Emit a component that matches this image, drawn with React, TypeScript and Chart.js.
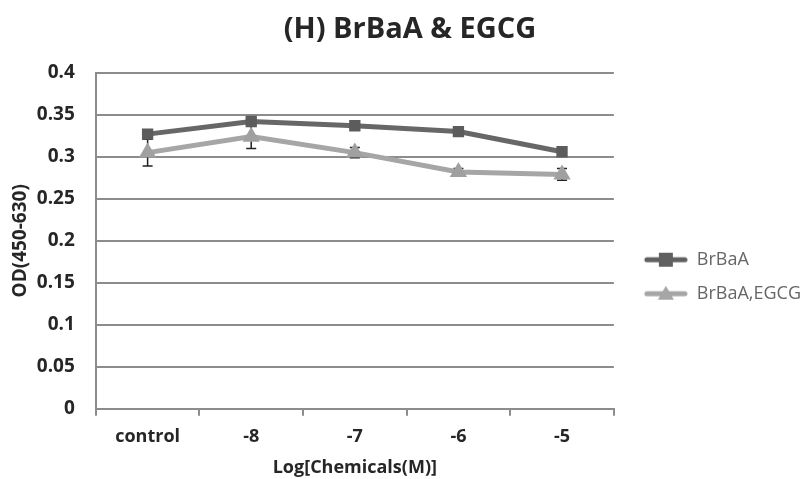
import React, { useEffect, useRef } from "react";
import { Chart, registerables } from "chart.js";

Chart.register(...registerables);

const categories = ["control", "-8", "-7", "-6", "-5"];
const brbaa = [0.327, 0.342, 0.337, 0.330, 0.306];
const brbaaErr = [0.003, 0.003, 0.003, 0.003, 0.003];
const egcg = [0.305, 0.324, 0.305, 0.282, 0.279];
const egcgErr = [0.016, 0.014, 0.006, 0.004, 0.007];
const yTicks = [0, 0.05, 0.1, 0.15, 0.2, 0.25, 0.3, 0.35, 0.4];

const FONT = "'Open Sans', 'Noto Sans', sans-serif";
const DARK = "#606060";
const LIGHT = "#a6a6a6";
const LEGEND_BOX = 58;

function legendIcon(color: string, shape: "square" | "triangle") {
  const c = document.createElement("canvas");
  c.width = LEGEND_BOX;
  c.height = 16;
  const ctx = c.getContext("2d")!;
  const x0 = LEGEND_BOX - 44;
  ctx.strokeStyle = color;
  ctx.lineWidth = 5;
  ctx.lineCap = "round";
  ctx.beginPath();
  ctx.moveTo(x0 + 3, 8);
  ctx.lineTo(x0 + 41, 8);
  ctx.stroke();
  ctx.fillStyle = color;
  if (shape === "square") {
    ctx.fillRect(x0 + 15, 1, 14, 14);
  } else {
    ctx.beginPath();
    ctx.moveTo(x0 + 22, 0);
    ctx.lineTo(x0 + 30, 14);
    ctx.lineTo(x0 + 14, 14);
    ctx.closePath();
    ctx.fill();
  }
  return c;
}

const errorBarPlugin = {
  id: "errorBars",
  beforeDatasetsDraw(chart: any) {
    const ctx = chart.ctx;
    const y = chart.scales.y;
    const errs = [brbaaErr, egcgErr];
    chart.data.datasets.forEach((ds: any, i: number) => {
      const meta = chart.getDatasetMeta(i);
      ctx.save();
      ctx.strokeStyle = "#222";
      ctx.lineWidth = 1.5;
      meta.data.forEach((pt: any, j: number) => {
        const v = ds.data[j];
        const e = errs[i][j];
        const yTop = y.getPixelForValue(v + e);
        const yBot = y.getPixelForValue(v - e);
        ctx.beginPath();
        ctx.moveTo(pt.x, yTop);
        ctx.lineTo(pt.x, yBot);
        ctx.moveTo(pt.x - 5, yTop);
        ctx.lineTo(pt.x + 5, yTop);
        ctx.moveTo(pt.x - 5, yBot);
        ctx.lineTo(pt.x + 5, yBot);
        ctx.stroke();
      });
      ctx.restore();
    });
  },
};

export default function App() {
  const ref = useRef<HTMLCanvasElement>(null);
  useEffect(() => {
    if (!ref.current) return;
    const iconA = legendIcon(DARK, "square");
    const iconB = legendIcon(LIGHT, "triangle");
    const chart = new Chart(ref.current, {
      type: "line",
      data: {
        labels: categories,
        datasets: [
          {
            label: "BrBaA",
            data: brbaa,
            borderColor: "#676767",
            backgroundColor: "#5c5c5c",
            borderWidth: 5,
            pointStyle: "rect",
            pointRadius: 8,
            pointBorderWidth: 0,
            pointBorderColor: "#5c5c5c",
          },
          {
            label: "BrBaA,EGCG",
            data: egcg,
            borderColor: LIGHT,
            backgroundColor: "#a0a0a0",
            borderWidth: 5,
            pointStyle: "triangle",
            pointRadius: 10,
            pointBorderWidth: 0,
            pointBorderColor: "#a0a0a0",
          },
        ],
      },
      options: {
        animation: false,
        responsive: false,
        layout: { padding: { left: 9, right: -3, top: 2, bottom: 0 } },
        plugins: {
          title: {
            display: true,
            text: "(H) BrBaA & EGCG",
            font: { family: FONT, size: 29, weight: "bold" },
            color: "#262626",
            padding: { top: 10, bottom: 26 },
          },
          legend: {
            position: "right",
            title: {
              display: true,
              text: " ",
              font: { family: FONT, size: 12 },
              padding: { top: 0, bottom: 58 },
            },
            labels: {
              usePointStyle: true,
              pointStyleWidth: LEGEND_BOX,
              padding: 16,
              font: { family: FONT, size: 18 },
              color: "#262626",
              generateLabels: () => [
                { text: "BrBaA", pointStyle: iconA as any, datasetIndex: 0, fillStyle: DARK, strokeStyle: DARK, lineWidth: 0, hidden: false } as any,
                { text: "BrBaA,EGCG", pointStyle: iconB as any, datasetIndex: 1, fillStyle: LIGHT, strokeStyle: LIGHT, lineWidth: 0, hidden: false } as any,
              ],
            },
          },
          tooltip: { enabled: false },
        },
        scales: {
          x: {
            offset: true,
            grid: {
              offset: true,
              drawOnChartArea: false,
              drawTicks: true,
              tickLength: 7,
              color: "#8c8c8c",
              lineWidth: 2,
            },
            border: { color: "#8c8c8c", width: 2 },
            ticks: {
              font: { family: FONT, size: 18, weight: "bold" },
              color: "#262626",
              padding: 10,
            },
            title: {
              display: true,
              text: "Log[Chemicals(M)]",
              font: { family: FONT, size: 18, weight: "bold" },
              color: "#262626",
              padding: { top: 0, bottom: 0 },
            },
          },
          y: {
            min: 0,
            max: 0.4,
            afterBuildTicks: (axis: any) => {
              axis.ticks = yTicks.map((v) => ({ value: v }));
            },
            grid: {
              color: "#8c8c8c",
              lineWidth: 2,
              drawTicks: false,
            },
            border: { color: "#8c8c8c", width: 2 },
            ticks: {
              font: { family: FONT, size: 19, weight: "bold" },
              color: "#262626",
              padding: 21,
              callback: (v: any) => String(Number(v.toFixed(2))),
            },
            title: {
              display: true,
              text: "OD(450-630)",
              font: { family: FONT, size: 19, weight: "bold" },
              color: "#262626",
              padding: { top: 0, bottom: -16 },
            },
          },
        },
      },
      plugins: [errorBarPlugin],
    });
    return () => chart.destroy();
  }, []);
  return (
    <div style={{ position: "fixed", left: 0, top: 0, width: 808, height: 479, background: "#fff" }}>
      <canvas ref={ref} width={808} height={479} style={{ width: 808, height: 479 }} />
    </div>
  );
}
